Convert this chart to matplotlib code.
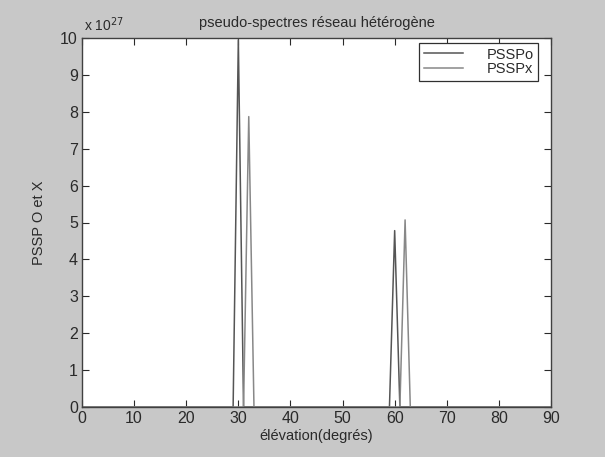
import numpy as np
import matplotlib
matplotlib.use('Agg')
import matplotlib.pyplot as plt

plt.rcParams['font.family'] = ['Liberation Sans Narrow', 'Liberation Sans', 'DejaVu Sans']

# --- Données (pseudo-spectres, en unités de 1e27) ---
elevation = np.arange(0, 91)          # grille d'élévation en degrés
pics_o = [30, 60]                     # positions des pics PSSPo
hauteurs_o = [9.95, 4.78]
pics_x = [32, 62]                     # positions des pics PSSPx
hauteurs_x = [7.87, 5.07]

psspo = np.zeros(len(elevation))
psspo[pics_o] = hauteurs_o
psspx = np.zeros(len(elevation))
psspx[pics_x] = hauteurs_x

# --- Figure ---
fig = plt.figure(figsize=(6.05, 4.57), dpi=100, facecolor='#c8c8c8')
ax = fig.add_axes([82/605, 1 - 407/457, 469/605, 369/457])
ax.set_facecolor('white')

ax.plot(elevation, psspo, color='#555555', lw=1.1, label='PSSPo')
ax.plot(elevation, psspx, color='#888888', lw=1.1, label='PSSPx')

ax.set_xlim(0, 90)
ax.set_ylim(0, 10)
ax.set_xticks(np.arange(0, 91, 10))
ax.set_yticks(np.arange(0, 11, 1))
ax.tick_params(direction='in', top=True, right=True, length=5, width=0.8,
               labelsize=11.5, colors='#2a2a2a', pad=3)
for s in ax.spines.values():
    s.set_color('#404040')
    s.set_linewidth(1.0)

ax.text(0.005, 1.012, r'x 10$^{27}$', transform=ax.transAxes, fontsize=10,
        color='#2a2a2a', ha='left', va='bottom')
ax.set_title('pseudo-spectres réseau hétérogène', fontsize=10.5, color='#2a2a2a', pad=8)
ax.set_xlabel('élévation(degrés)', fontsize=10.5, color='#2a2a2a', labelpad=2)
ax.set_ylabel('PSSP O et X', fontsize=10.5, color='#2a2a2a', labelpad=10)

leg = ax.legend(loc='upper right', bbox_to_anchor=(0.972, 0.986), borderaxespad=0,
                fontsize=10.5, handlelength=2.7, handletextpad=1.6, labelspacing=0.05,
                borderpad=0.3, fancybox=False, framealpha=1, edgecolor='#303030')
leg.get_frame().set_linewidth(0.9)
for t in leg.get_texts():
    t.set_color('#2a2a2a')

fig.savefig('out.png', dpi=100, facecolor=fig.get_facecolor())
